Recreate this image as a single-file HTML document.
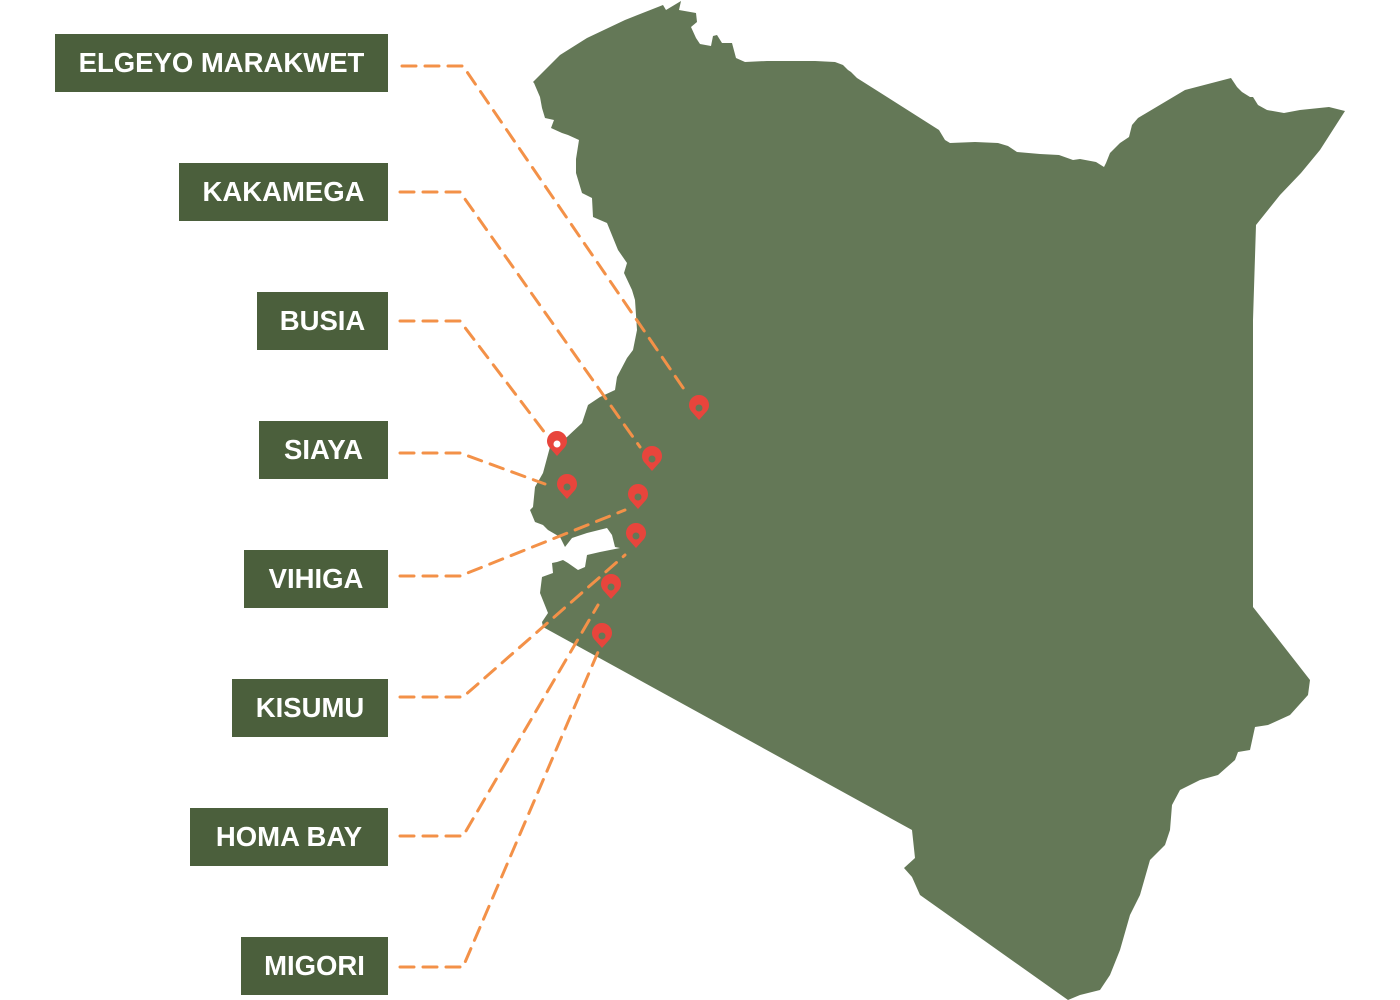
<!DOCTYPE html>
<html><head><meta charset="utf-8"><style>
body{margin:0;width:1400px;height:1000px;background:#fff;overflow:hidden;position:relative;font-family:"Liberation Sans",sans-serif}
.l{position:absolute;background:#4b5f3c;color:#fff;font-weight:bold;font-size:27.5px;height:58px;line-height:58px;text-align:center;right:1012px}
svg{position:absolute;left:0;top:0}
</style></head><body>
<svg width="1400" height="1000">
<path fill="#647857" d="M533,82 L560,55 L587,38 L625,20 L663,5 L666,10 L681,1 L679,10 L696,13 L697,22 L691,27 L696,38 L700,44 L711,46 L713,36 L717,35 L722,43 L732,43 L736,58 L745,62 L767,61 L815,61 L835,62 L843,65 L848,70 L851,72 L857,78 L939,130 L945,140 L950,143 L975,142 L998,143 L1008,146 L1017,152 L1040,154 L1059,155 L1073,160 L1080,159 L1096,162 L1104,167 L1106,163 L1110,153 L1120,143 L1129,137 L1132,125 L1138,118 L1185,90 L1231,78 L1237,87 L1242,92 L1250,97 L1253,97 L1258,105 L1267,110 L1284,113 L1300,110 L1329,107 L1345,111 L1320,150 L1301,173 L1280,195 L1256,225 L1253,320 L1253,607 L1310,680 L1308,695 L1290,715 L1268,725 L1255,727 L1250,750 L1238,752 L1235,760 L1218,775 L1200,780 L1180,790 L1172,805 L1170,830 L1165,845 L1150,860 L1140,895 L1130,915 L1120,950 L1110,975 L1100,990 L1080,995 L1068,1000 L920,895 L912,877 L904,868 L915,858 L912,830 L543,627 L542,622 L548,613 L540,593 L542,577 L553,573 L552,563 L557,562 L563,560 L568,563 L578,570 L585,567 L587,555 L600,552 L620,548 L615,547 L612,535 L607,528 L587,533 L572,538 L565,547 L560,537 L548,530 L543,525 L535,522 L530,510 L533,507 L535,487 L543,473 L550,447 L567,437 L582,423 L588,405 L600,397 L615,390 L617,377 L627,358 L633,350 L637,330 L635,300 L632,290 L624,273 L627,263 L618,250 L607,223 L593,217 L592,198 L582,193 L576,173 L576,159 L579,140 L568,135 L562,133 L551,128 L554,120 L545,118 L542,108 L540,97 L534,83 Z"/>
<g fill="none" stroke="#f39148" stroke-width="3" stroke-dasharray="14 9" stroke-linecap="round">
<path d="M402,66 H463 L688,395"/>
<path d="M400,192 H460 L640,447"/>
<path d="M400,321 H460 L545,433"/>
<path d="M400,453 H460 L545,484"/>
<path d="M400,576 H460 L625,510"/>
<path d="M400,697 H463 L625,555"/>
<path d="M400,836 H463 L598,605"/>
<path d="M400,967 H463 L598,652"/>
</g>
<g fill="#e8453c">
<g transform="translate(699,408)"><path d="M0,12 L-8,3 A10,10 0 1 1 8,3 Z"/><circle r="3.5" fill="#647857"/></g>
<g transform="translate(557,444)"><path d="M0,12 L-8,3 A10,10 0 1 1 8,3 Z"/><circle r="3.5" fill="#fff"/></g>
<g transform="translate(652,459)"><path d="M0,12 L-8,3 A10,10 0 1 1 8,3 Z"/><circle r="3.5" fill="#647857"/></g>
<g transform="translate(567,487)"><path d="M0,12 L-8,3 A10,10 0 1 1 8,3 Z"/><circle r="3.5" fill="#647857"/></g>
<g transform="translate(638,497)"><path d="M0,12 L-8,3 A10,10 0 1 1 8,3 Z"/><circle r="3.5" fill="#647857"/></g>
<g transform="translate(636,536)"><path d="M0,12 L-8,3 A10,10 0 1 1 8,3 Z"/><circle r="3.5" fill="#647857"/></g>
<g transform="translate(611,587)"><path d="M0,12 L-8,3 A10,10 0 1 1 8,3 Z"/><circle r="3.5" fill="#647857"/></g>
<g transform="translate(602,636)"><path d="M0,12 L-8,3 A10,10 0 1 1 8,3 Z"/><circle r="3.5" fill="#647857"/></g>
</g>
</svg>
<div class="l" style="top:34px;width:333px">ELGEYO MARAKWET</div>
<div class="l" style="top:163px;width:209px">KAKAMEGA</div>
<div class="l" style="top:292px;width:131px">BUSIA</div>
<div class="l" style="top:421px;width:129px">SIAYA</div>
<div class="l" style="top:550px;width:144px">VIHIGA</div>
<div class="l" style="top:679px;width:156px">KISUMU</div>
<div class="l" style="top:808px;width:198px">HOMA BAY</div>
<div class="l" style="top:937px;width:147px">MIGORI</div>
</body></html>
